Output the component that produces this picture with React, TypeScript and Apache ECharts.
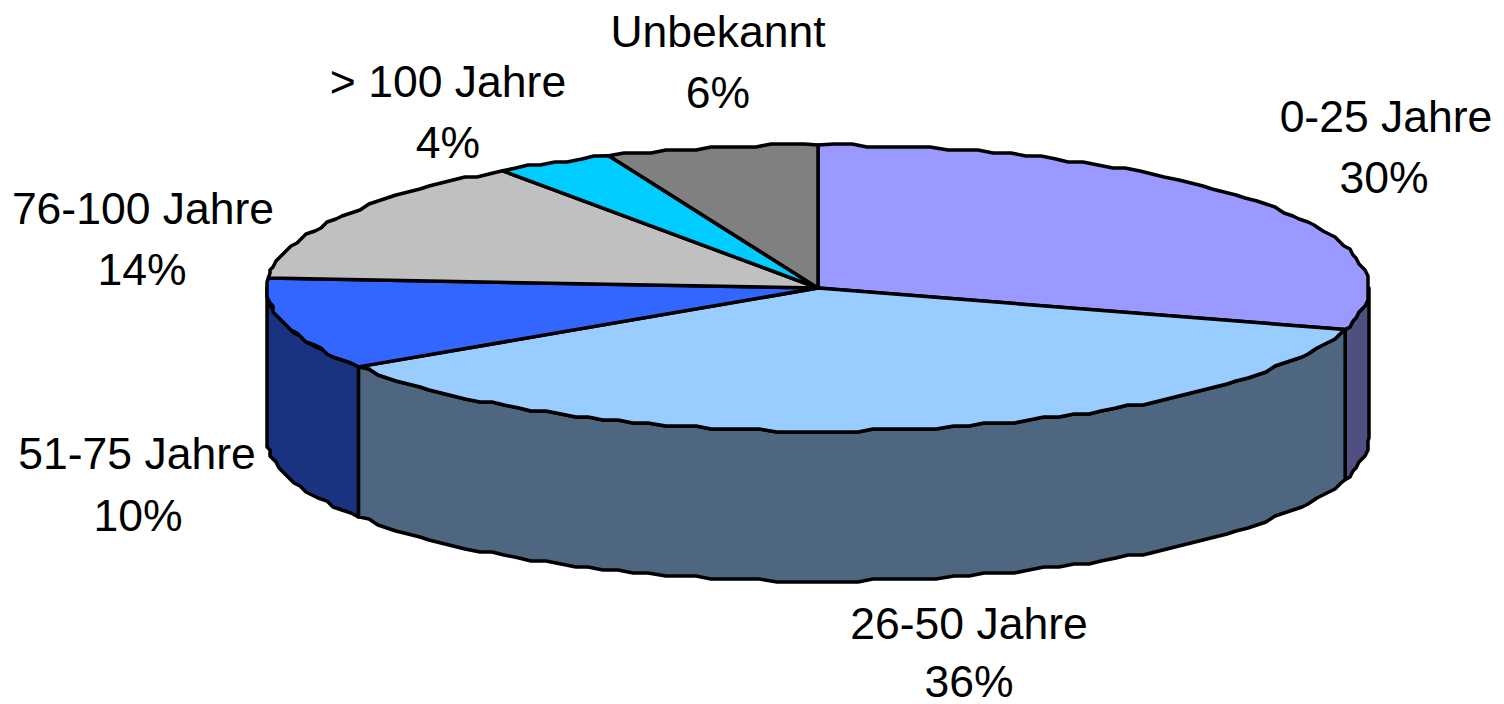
import React, { useEffect, useRef } from "react";
import * as echarts from "echarts";

const categories = ["0-25 Jahre", "26-50 Jahre", "51-75 Jahre", "76-100 Jahre", "> 100 Jahre", "Unbekannt"];
const percentLabels = ["30%", "36%", "10%", "14%", "4%", "6%"];
const shares = [29.7, 36.0, 10.4, 14.2, 3.5, 6.2];
const topColors = ["#9999FF", "#99CCFF", "#3366FF", "#C0C0C0", "#00CCFF", "#808080"];
const wallColors = ["#4F4F80", "#4F6680", "#1A3380", "#606060", "#006680", "#404040"];
const nameLabelPos = [
  [1386, 116],
  [969, 623],
  [137, 453],
  [143, 208],
  [448, 81],
  [718, 31],
];
const percentLabelPos = [
  [1384, 177],
  [969, 681],
  [138, 515],
  [142, 269],
  [448, 142],
  [718, 92],
];

const CX = 818;
const CY = 288;
const RX = 551;
const RY = 143;
const DEPTH = 150;
const SNAP = 3;
const STEP = 1.7;
const total = shares.reduce((a, b) => a + b, 0);

const snap = (v: number) => Math.round(v / SNAP) * SNAP;
const rim = (deg: number, dy = 0): number[] => {
  const t = (deg * Math.PI) / 180;
  return [CX + RX * Math.sin(t), CY - RY * Math.cos(t) + dy];
};
const arc = (from: number, to: number, dy = 0): number[][] => {
  const n = Math.max(1, Math.ceil((to - from) / STEP));
  const pts: number[][] = [];
  for (let i = 0; i <= n; i++) {
    const p = rim(from + ((to - from) * i) / n, dy);
    pts.push(i === 0 || i === n ? p : [snap(p[0]), snap(p[1])]);
  }
  return pts;
};
const angleRange = (index: number): [number, number] => {
  let before = 0;
  for (let i = 0; i < index; i++) before += shares[i];
  return [(before / total) * 360, ((before + shares[index]) / total) * 360];
};
const lineStyle = { stroke: "#000", lineWidth: 3.5, lineJoin: "round" };
const textOf = (text: string, pos: number[]) => ({
  type: "text",
  x: pos[0],
  y: pos[1],
  silent: true,
  style: {
    text,
    fontFamily: "'Liberation Sans', Arial, sans-serif",
    fontSize: 44.5,
    lineHeight: 36,
    fill: "#000",
    align: "center",
    verticalAlign: "middle",
  },
});

export default function App() {
  const ref = useRef<HTMLDivElement>(null);
  useEffect(() => {
    const chart = echarts.init(ref.current!, null, { renderer: "svg" });
    const data = categories.map((name, i) => ({ name, value: shares[i] }));
    chart.setOption({
      animation: false,
      backgroundColor: "#fff",
      series: [
        {
          type: "custom",
          coordinateSystem: "none",
          silent: true,
          data,
          renderItem: (params: any) => {
            const [a0, a1] = angleRange(params.dataIndex);
            const from = Math.max(a0, 90);
            const to = Math.min(a1, 270);
            if (to <= from) return { type: "group", children: [] };
            return {
              type: "polygon",
              shape: { points: [...arc(from, to), ...arc(from, to, DEPTH).reverse()] },
              style: { fill: wallColors[params.dataIndex], ...lineStyle },
            };
          },
        },
        {
          type: "custom",
          coordinateSystem: "none",
          silent: true,
          data,
          renderItem: (params: any) => {
            const [a0, a1] = angleRange(params.dataIndex);
            return {
              type: "polygon",
              shape: { points: [[CX, CY], ...arc(a0, a1)] },
              style: { fill: topColors[params.dataIndex], ...lineStyle },
            };
          },
        },
      ],
      graphic: [
        ...categories.map((name, i) => textOf(name, nameLabelPos[i])),
        ...percentLabels.map((label, i) => textOf(label, percentLabelPos[i])),
      ],
    });
    return () => chart.dispose();
  }, []);
  return <div ref={ref} style={{ position: "absolute", left: 0, top: 0, width: 1504, height: 704 }} />;
}
